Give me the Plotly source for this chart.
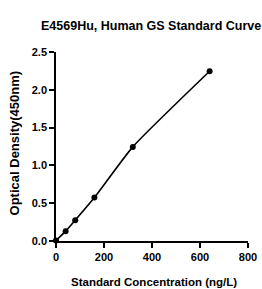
import plotly.graph_objects as go

concentration = [0, 40, 80, 160, 320, 640]
od = [0.005, 0.13, 0.275, 0.575, 1.245, 2.245]
x_ticks = [0, 200, 400, 600, 800]
y_ticks = [0.0, 0.5, 1.0, 1.5, 2.0, 2.5]
y_tick_labels = ["0.0", "0.5", "1.0", "1.5", "2.0", "2.5"]

FONT = "Liberation Sans Narrow, Liberation Sans, Arial, sans-serif"
FONT2 = "Liberation Sans, Arial, sans-serif"

fig = go.Figure()
fig.add_trace(go.Scatter(
    x=concentration, y=od, mode="lines+markers",
    line=dict(color="black", width=1.6, shape="spline", smoothing=0.5),
    marker=dict(color="black", size=6),
    cliponaxis=False, showlegend=False,
))

fig.update_layout(
    width=262, height=289,
    margin=dict(l=56, r=14, t=52, b=48),
    plot_bgcolor="white", paper_bgcolor="white",
    font=dict(family=FONT, color="black"),
    annotations=[
        dict(text="<b>E4569Hu, Human GS Standard Curve</b>", xref="paper", yref="paper",
             x=0.495, y=1.14, xanchor="center", yanchor="middle", showarrow=False,
             font=dict(family=FONT2, size=12.5, color="black")),
        dict(text="<b>Standard Concentration (ng/L)</b>", xref="paper", yref="paper",
             x=0.51, y=-0.215, xanchor="center", yanchor="middle", showarrow=False,
             font=dict(family=FONT, size=11.5, color="black")),
        dict(text="<b>Optical Density(450nm)</b>", xref="paper", yref="paper",
             x=-0.215, y=0.52, xanchor="center", yanchor="middle", showarrow=False,
             textangle=-90, font=dict(family=FONT2, size=13, color="black")),
    ],
)
fig.update_xaxes(
    range=[0, 800], tickvals=x_ticks, ticktext=[f"<b>{v}</b>" for v in x_ticks],
    showgrid=False, zeroline=False, showline=True, linecolor="black", linewidth=1.5,
    ticks="outside", ticklen=5, tickwidth=1.5, tickcolor="black", automargin=False,
    tickfont=dict(family=FONT, size=11, color="black"),
)
fig.update_yaxes(
    range=[0, 2.5], tickvals=y_ticks, ticktext=[f"<b>{t}</b>" for t in y_tick_labels],
    showgrid=False, zeroline=False, showline=True, linecolor="black", linewidth=1.5,
    ticks="outside", ticklen=5, tickwidth=1.5, tickcolor="black", automargin=False,
    tickfont=dict(family=FONT, size=11, color="black"),
)
fig.write_html("out.html", config={"displayModeBar": False},
               post_script="document.body.style.margin='0';document.body.style.overflow='hidden';")
